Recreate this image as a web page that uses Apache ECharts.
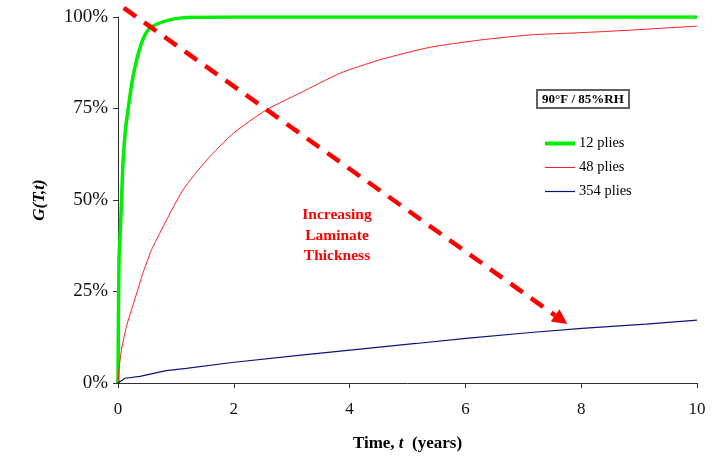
<!DOCTYPE html>
<html>
<head>
<meta charset="utf-8">
<script src="https://cdn.jsdelivr.net/npm/echarts@6/dist/echarts.min.js"></script>
<style>
  html, body { margin: 0; padding: 0; background: #fff; }
  #chart { width: 723px; height: 458px; }
</style>
</head>
<body>
<div id="chart"></div>
<script>
// Moisture uptake G(T,t) vs time at 90°F / 85%RH for three laminate thicknesses
const seriesNames = ['12 plies', '48 plies', '354 plies'];

const time12 = [0, 0.017, 0.041, 0.064, 0.086, 0.128, 0.173, 0.259, 0.404, 0.548, 0.893, 1.29, 2, 4, 6, 8, 10];
const gain12 = [0, 0.336, 0.418, 0.509, 0.601, 0.691, 0.746, 0.837, 0.928, 0.969, 0.992, 0.999, 1, 1, 1, 1, 1];

const time48 = [0, 0.017, 0.059, 0.145, 0.288, 0.43, 0.577, 0.72, 1.12, 1.53, 1.99, 2.56, 3.14, 3.83, 4.52, 5.38, 6.25, 7.11, 7.97, 8.84, 10];
const gain48 = [0, 0.036, 0.09, 0.154, 0.227, 0.30, 0.363, 0.409, 0.527, 0.609, 0.682, 0.746, 0.792, 0.846, 0.883, 0.917, 0.937, 0.951, 0.957, 0.964, 0.975];

const time354 = [0, 0.12, 0.38, 0.83, 1.18, 1.97, 3.16, 4.01, 5.15, 6.01, 7.13, 8.01, 9.12, 10];
const gain354 = [0, 0.013, 0.018, 0.034, 0.040, 0.056, 0.076, 0.090, 0.108, 0.122, 0.138, 0.149, 0.161, 0.172];

const xTicks = [0, 2, 4, 6, 8, 10];
const yTicks = [0, 0.25, 0.5, 0.75, 1];

// Trend arrow: start (t, G) and end (t, G)
const arrowFrom = [0.10, 1.025];
const arrowTo = [7.76, 0.161];

const conditionLabel = '90°F / 85%RH';
const trendLabel = ['Increasing', 'Laminate', 'Thickness'];

const serif = '"Liberation Serif", "Times New Roman", serif';
const lineWidths = [4, 1, 1.2];
const lineColors = ['#00ee00', '#ff2020', '#101080'];

function pairs(xs, ys) { return xs.map((x, i) => [x, ys[i]]); }

const chart = echarts.init(document.getElementById('chart'), null, { renderer: 'canvas' });

chart.setOption({
  backgroundColor: '#ffffff',
  animation: false,
  grid: { left: 118, right: 26, top: 17, bottom: 75 },
  title: {
    text: conditionLabel,
    left: 537, top: 90,
    padding: [3, 5, 2, 5],
    borderColor: '#606060', borderWidth: 2,
    textStyle: { fontFamily: serif, fontWeight: 'bold', fontSize: 13, color: '#000' }
  },
  legend: {
    orient: 'vertical',
    left: 538, top: 131,
    // keep the series line sample, hide the marker dot
    itemStyle: { color: 'rgba(0,0,0,0)', borderWidth: 0, borderColor: 'rgba(0,0,0,0)' },
    itemWidth: 30, itemHeight: 14, itemGap: 9,
    data: seriesNames.map((name, i) => ({
      name: name,
      lineStyle: { width: lineWidths[i], color: lineColors[i] }
    })),
    textStyle: { fontFamily: serif, fontSize: 14.5, color: '#000', padding: [0, 0, 0, -1] }
  },
  xAxis: {
    type: 'value', min: xTicks[0], max: xTicks[xTicks.length - 1], interval: 2,
    name: '{b|Time, }{i|t}{b|  (years)}',
    nameLocation: 'middle', nameGap: 52,
    nameTextStyle: {
      rich: {
        b: { fontFamily: serif, fontWeight: 'bold', fontSize: 17, color: '#000' },
        i: { fontFamily: serif, fontWeight: 'bold', fontStyle: 'italic', fontSize: 17, color: '#000' }
      }
    },
    axisLine: { lineStyle: { color: '#303030', width: 1 } },
    axisTick: { show: true, length: 5, lineStyle: { color: '#303030' } },
    axisLabel: { fontFamily: serif, fontSize: 17, color: '#111', margin: 18 },
    splitLine: { show: false }
  },
  yAxis: {
    type: 'value', min: yTicks[0], max: yTicks[yTicks.length - 1], interval: 0.25,
    name: 'G(T,t)',
    nameLocation: 'middle', nameGap: 70,
    nameTextStyle: { fontFamily: serif, fontWeight: 'bold', fontStyle: 'italic', fontSize: 17, color: '#000' },
    axisLine: { show: true, lineStyle: { color: '#303030', width: 1 } },
    axisTick: { show: true, length: 5, lineStyle: { color: '#303030' } },
    axisLabel: {
      fontFamily: serif, fontSize: 19, color: '#111', margin: 10,
      formatter: v => Math.round(v * 100) + '%'
    },
    splitLine: { show: false }
  },
  graphic: [{
    type: 'text',
    x: 337, y: 205,
    style: {
      text: trendLabel.join('\n'),
      textAlign: 'center',
      fill: '#ff0000',
      font: 'bold 15.5px ' + serif,
      lineHeight: 20.5
    }
  }],
  series: [
    {
      name: seriesNames[0], type: 'line', data: pairs(time12, gain12),
      symbol: 'none', smooth: 0.3, z: 3,
      lineStyle: { color: lineColors[0], width: 3.5 }, itemStyle: { color: lineColors[0] }
    },
    {
      name: seriesNames[1], type: 'line', data: pairs(time48, gain48),
      symbol: 'none', smooth: 0.2, z: 3,
      lineStyle: { color: lineColors[1], width: 1 }, itemStyle: { color: lineColors[1] }
    },
    {
      name: seriesNames[2], type: 'line', data: pairs(time354, gain354),
      symbol: 'none', smooth: false, z: 3,
      lineStyle: { color: lineColors[2], width: 1.2 }, itemStyle: { color: lineColors[2] }
    },
    {
      // dashed trend arrow, placed in data coordinates
      type: 'custom', clip: false, z: 4, silent: true,
      data: [[arrowFrom[0], arrowFrom[1], arrowTo[0], arrowTo[1]]],
      renderItem: function (params, api) {
        const p0 = api.coord([api.value(0), api.value(1)]);
        const p1 = api.coord([api.value(2), api.value(3)]);
        const dx = p1[0] - p0[0], dy = p1[1] - p0[1];
        const len = Math.sqrt(dx * dx + dy * dy);
        const ux = dx / len, uy = dy / len;
        const headLen = 15, headHalf = 7.5;
        const bx = p1[0] - ux * headLen, by = p1[1] - uy * headLen;
        return {
          type: 'group',
          children: [
            {
              type: 'line',
              shape: { x1: p0[0], y1: p0[1], x2: bx, y2: by },
              style: { stroke: '#ff0000', lineWidth: 4.5, lineDash: [15, 10] }
            },
            {
              type: 'polygon',
              shape: { points: [
                [p1[0], p1[1]],
                [bx - uy * headHalf, by + ux * headHalf],
                [bx + uy * headHalf, by - ux * headHalf]
              ] },
              style: { fill: '#ff0000' }
            }
          ]
        };
      }
    }
  ]
});
</script>
</body>
</html>
